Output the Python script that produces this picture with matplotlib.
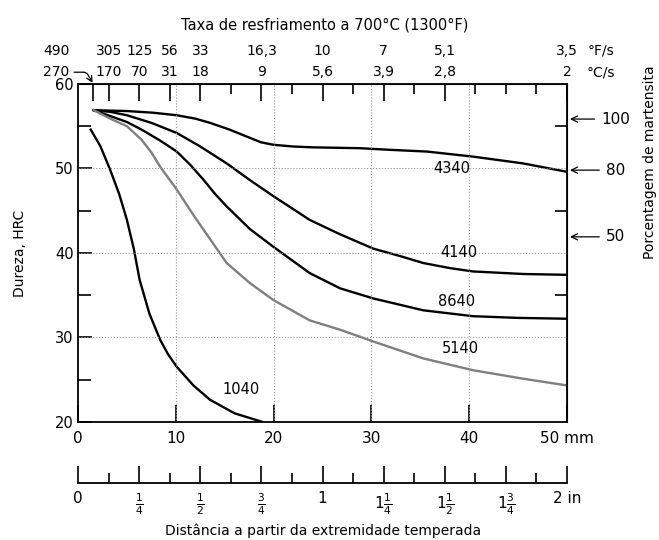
import matplotlib
matplotlib.use('Agg')
import matplotlib.pyplot as plt

# Jominy curves: distance from quenched end (mm) vs hardness (HRC)
x4340 = [1.6, 5.0, 7.7, 10.1, 12.0, 13.5, 15.5, 17.2, 18.7, 20.0, 22.0, 24.0, 28.8, 32.0, 35.7, 40.4, 45.5, 50.0]
y4340 = [56.9, 56.8, 56.6, 56.3, 55.9, 55.4, 54.6, 53.8, 53.1, 52.8, 52.6, 52.5, 52.4, 52.2, 52.0, 51.4, 50.6, 49.6]

x4140 = [1.6, 3.3, 5.0, 7.5, 10.1, 12.5, 15.2, 17.6, 20.0, 23.7, 26.8, 30.2, 33.0, 35.3, 38.0, 40.4, 45.5, 50.0]
y4140 = [56.9, 56.7, 56.3, 55.4, 54.2, 52.6, 50.6, 48.6, 46.7, 43.9, 42.2, 40.5, 39.6, 38.8, 38.2, 37.8, 37.5, 37.4]

x8640 = [1.6, 3.3, 5.0, 6.5, 8.4, 10.1, 11.5, 12.8, 14.0, 15.2, 17.6, 20.0, 23.7, 26.8, 30.2, 35.3, 40.4, 45.0, 50.0]
y8640 = [56.9, 56.2, 55.5, 54.6, 53.3, 52.0, 50.4, 48.7, 47.0, 45.5, 42.8, 40.7, 37.6, 35.8, 34.6, 33.2, 32.5, 32.3, 32.2]

x5140 = [1.6, 3.3, 5.0, 6.5, 7.5, 8.4, 10.1, 11.5, 12.8, 15.2, 17.6, 20.0, 23.7, 26.8, 30.2, 35.3, 40.4, 45.5, 50.0]
y5140 = [56.9, 55.9, 55.0, 53.4, 51.9, 50.2, 47.5, 45.0, 42.8, 38.8, 36.4, 34.4, 32.0, 30.9, 29.5, 27.5, 26.1, 25.1, 24.3]

x1040 = [1.3, 2.3, 3.3, 4.2, 5.0, 5.7, 6.3, 7.3, 8.4, 9.2, 10.1, 11.8, 13.5, 16.0, 18.8]
y1040 = [54.6, 52.6, 49.8, 47.0, 43.9, 40.5, 36.8, 32.8, 29.7, 28.0, 26.5, 24.3, 22.6, 21.0, 20.0]

# cooling rate at 700 C, at Jominy positions (sixteenths of an inch)
rate_pos16 = [1, 2, 4, 6, 8, 12, 16, 20, 24, 32]
rate_F = ['490', '305', '125', '56', '33', '16,3', '10', '7', '5,1', '3,5']
rate_C = ['270', '170', '70', '31', '18', '9', '5,6', '3,9', '2,8', '2']
short_pos16 = [10, 14, 18, 22, 26, 28, 30]

# martensite percentage marks on right
mart_pct = ['100', '80', '50']
mart_hrc = [55.85, 49.8, 41.9]

inch_labels = ['0', r'$\frac{1}{4}$', r'$\frac{1}{2}$', r'$\frac{3}{4}$', '1',
               r'$1\frac{1}{4}$', r'$1\frac{1}{2}$', r'$1\frac{3}{4}$', '2 in']

plt.rcParams['font.family'] = 'DejaVu Sans'
plt.rcParams['font.size'] = 10

fig = plt.figure(figsize=(6.59, 5.4), dpi=100)
ax = fig.add_axes([0.1184, 0.219, 0.742, 0.6254])

mm_per_16 = 50.0 / 32
lw = 1.7
ax.plot(x4340, y4340, color='black', lw=lw)
ax.plot(x4140, y4140, color='black', lw=lw)
ax.plot(x8640, y8640, color='black', lw=lw)
ax.plot(x5140, y5140, color='#7f7f7f', lw=lw)
ax.plot(x1040, y1040, color='black', lw=lw)

ax.text(38.2, 50.0, '4340', ha='center', va='center', fontsize=10.5)
ax.text(38.9, 40.0, '4140', ha='center', va='center', fontsize=10.5)
ax.text(38.7, 34.3, '8640', ha='center', va='center', fontsize=10.5)
ax.text(39.1, 28.7, '5140', ha='center', va='center', fontsize=10.5)
ax.text(16.7, 23.8, '1040', ha='center', va='center', fontsize=10.5)

ax.set_xlim(0, 50)
ax.set_ylim(20, 60)
for s in ax.spines.values():
    s.set_linewidth(1.3)

for g in [10, 20, 30, 40]:
    ax.axvline(g, color='#9a9a9a', lw=0.8, ls=':')
for g in [30, 40, 50]:
    ax.axhline(g, color='#9a9a9a', lw=0.8, ls=':')

# bottom mm axis
ax.set_xticks([0, 10, 20, 30, 40, 50])
ax.set_xticklabels(['0', '10', '20', '30', '40', '50 mm'], fontsize=11)
ax.tick_params(axis='x', which='major', direction='in', length=12, width=1.2, pad=7, top=False)

# left HRC axis
ax.set_yticks([20, 30, 40, 50, 60])
ax.set_yticks([25, 35, 45, 55], minor=True)
ax.tick_params(axis='y', which='major', direction='in', length=10, width=1.2, labelsize=10.5, pad=3)
ax.tick_params(axis='y', which='minor', direction='in', length=9, width=1.2)
ax.set_ylabel('Dureza, HRC', fontsize=10, labelpad=20)

# right side short ticks
rgt = ax.secondary_yaxis('right')
rgt.set_yticks([35, 45, 55])
rgt.tick_params(direction='in', length=9, width=1.2, labelright=False)
rgt.set_yticklabels([])

# top cooling-rate ticks
top = ax.secondary_xaxis('top')
top.set_xticks([p * mm_per_16 for p in rate_pos16])
top.set_xticks([p * mm_per_16 for p in short_pos16], minor=True)
top.tick_params(which='major', direction='in', length=12, width=1.2, labeltop=False)
top.tick_params(which='minor', direction='in', length=7, width=1.2)
top.set_xticklabels([])

for i, p in enumerate(rate_pos16):
    xpos = p * mm_per_16
    if i == 0:
        xpos = -2.2
    ax.annotate(rate_F[i], xy=(xpos, 1), xycoords=('data', 'axes fraction'),
                xytext=(0, 24), textcoords='offset points', ha='center', va='center', fontsize=10,
                annotation_clip=False)
    ax.annotate(rate_C[i], xy=(xpos, 1), xycoords=('data', 'axes fraction'),
                xytext=(0, 8.5), textcoords='offset points', ha='center', va='center', fontsize=10,
                annotation_clip=False)
ax.annotate('°F/s', xy=(53.5, 1), xycoords=('data', 'axes fraction'),
            xytext=(0, 24), textcoords='offset points', ha='center', va='center', fontsize=10,
            annotation_clip=False)
ax.annotate('°C/s', xy=(53.5, 1), xycoords=('data', 'axes fraction'),
            xytext=(0, 8.5), textcoords='offset points', ha='center', va='center', fontsize=10,
            annotation_clip=False)
ax.annotate('', xy=(rate_pos16[0] * mm_per_16, 1.0), xycoords=('data', 'axes fraction'),
            xytext=(-0.4, 1.035), textcoords=('data', 'axes fraction'),
            arrowprops=dict(arrowstyle='->', lw=0.9, shrinkA=0, shrinkB=1,
                            connectionstyle='angle,angleA=0,angleB=-60,rad=3'),
            annotation_clip=False)

fig.text(0.492, 0.954, 'Taxa de resfriamento a 700°C (1300°F)', ha='center', va='center', fontsize=10.5)

# martensite arrows on right
for lab, h in zip(mart_pct, mart_hrc):
    ax.annotate(lab, xy=(50.3, h), xytext=(55.0, h), ha='center', va='center', fontsize=11,
                arrowprops=dict(arrowstyle='->', lw=0.9, shrinkA=3, shrinkB=0),
                annotation_clip=False)
fig.text(0.986, 0.70, 'Porcentagem de martensita', rotation=90, ha='center', va='center', fontsize=10)

# inch scale
axi = fig.add_axes([0.1184, 0.1056, 0.742, 0.06])
axi.set_xlim(0, 2)
axi.set_ylim(0, 1)
for k in ['top', 'left', 'right']:
    axi.spines[k].set_visible(False)
axi.spines['bottom'].set_linewidth(1.3)
axi.set_yticks([])
axi.set_xticks([i * 0.25 for i in range(9)])
axi.set_xticklabels(inch_labels, fontsize=11)
axi.set_xticks([0.125 + i * 0.25 for i in range(8)], minor=True)
axi.tick_params(which='major', direction='in', length=12, width=1.2, pad=6)
axi.tick_params(which='minor', direction='in', length=7, width=1.2)
axi.patch.set_alpha(0)

fig.text(0.49, 0.018, 'Distância a partir da extremidade temperada', ha='center', va='center', fontsize=10)

fig.savefig('out.png', dpi=100)
